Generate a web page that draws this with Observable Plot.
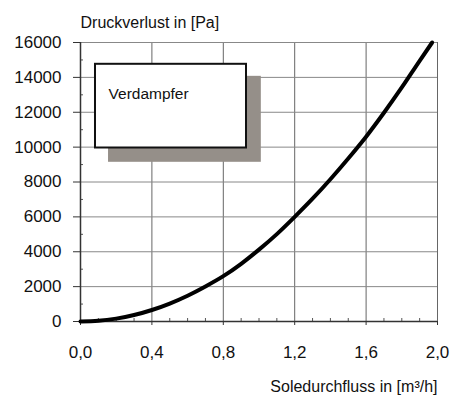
<!DOCTYPE html>
<html>
<head>
<meta charset="utf-8">
<script src="https://cdn.jsdelivr.net/npm/d3@7"></script>
<script src="https://cdn.jsdelivr.net/npm/@observablehq/plot@0.6"></script>
<style>
  body { margin: 0; background: #fff; }
  svg { font-family: "Liberation Sans", Arial, sans-serif; }
</style>
</head>
<body>
<div id="chart"></div>
<script>
// Data
const flow = [0, 0.1, 0.2, 0.3, 0.4, 0.5, 0.6, 0.7, 0.8, 0.9, 1.0, 1.1, 1.2, 1.3, 1.4, 1.5, 1.6, 1.7, 1.8, 1.9, 1.97];
const pressure = [0, 40, 165, 370, 660, 1030, 1480, 2010, 2600, 3310, 4120, 5010, 6000, 7040, 8160, 9350, 10600, 11970, 13420, 14950, 16000];
const xTicks = [0, 0.4, 0.8, 1.2, 1.6, 2.0];
const xMinor = [0.1, 0.2, 0.3, 0.5, 0.6, 0.7, 0.9, 1.0, 1.1, 1.3, 1.4, 1.5, 1.7, 1.8, 1.9];
const yTicks = [0, 2000, 4000, 6000, 8000, 10000, 12000, 14000, 16000];
const yMinor = [1000, 3000, 5000, 7000, 9000, 11000, 13000, 15000];
const yTitle = "Druckverlust in [Pa]";
const xTitle = "Soledurchfluss in [m³/h]";
const legendLabel = ["Verdampfer"];
// legend box (in data units), its shadow, and its label position
const legendBox = [{x1: 0.084, x2: 0.93, y1: 9950, y2: 14750}];
const legendShadow = [{x1: 0.157, x2: 1.013, y1: 9130, y2: 14060}];
const legendText = [{x: 0.157, y: 13070, t: legendLabel[0]}];

const data = flow.map((f, i) => ({f, p: pressure[i]}));
const fmt = d => d.toFixed(1).replace(".", ",");

const chart = Plot.plot({
  width: 453,
  height: 400,
  marginLeft: 80,
  marginRight: 16,
  marginTop: 42,
  marginBottom: 79,
  style: {fontFamily: "'Liberation Sans', Arial, sans-serif", background: "#fff"},
  x: {domain: [0, 2]},
  y: {domain: [0, 16000]},
  marks: [
    Plot.gridX(xTicks, {stroke: "#666", strokeOpacity: 1, strokeWidth: 1}),
    Plot.gridY(yTicks, {stroke: "#888", strokeOpacity: 1, strokeWidth: 1}),
    Plot.axisX(xTicks, {tickSize: 4, tickPadding: 20, tickFormat: fmt, fontSize: 17, label: null, stroke: "#333", fill: "#111"}),
    Plot.axisX(xMinor, {tickSize: -3, text: null, label: null, stroke: "#555"}),
    Plot.axisY(yTicks, {tickSize: 7, tickPadding: 12, tickFormat: d => String(d), fontSize: 17, label: null, stroke: "#333", fill: "#111"}),
    Plot.axisY(yMinor, {tickSize: -3, text: null, label: null, stroke: "#555"}),
    Plot.ruleX([0], {stroke: "#333", strokeWidth: 1.5}),
    Plot.ruleY([0], {stroke: "#333", strokeWidth: 1.5}),
    Plot.rect(legendShadow, {x1: "x1", x2: "x2", y1: "y1", y2: "y2", fill: "#958f89"}),
    Plot.rect(legendBox, {x1: "x1", x2: "x2", y1: "y1", y2: "y2", fill: "#fff", stroke: "#111", strokeWidth: 2}),
    Plot.text(legendText, {x: "x", y: "y", text: "t", textAnchor: "start", fontSize: 15.5, fill: "#111"}),
    Plot.line(data, {x: "f", y: "p", stroke: "#000", strokeWidth: 4, curve: "monotone-x"}),
    Plot.text([yTitle], {frameAnchor: "top-left", dy: -26, textAnchor: "start", fontSize: 16, fill: "#111"}),
    Plot.text([xTitle], {frameAnchor: "bottom-right", dy: 70, textAnchor: "end", fontSize: 16, fill: "#111"})
  ]
});
document.getElementById("chart").appendChild(chart);
</script>
</body>
</html>
